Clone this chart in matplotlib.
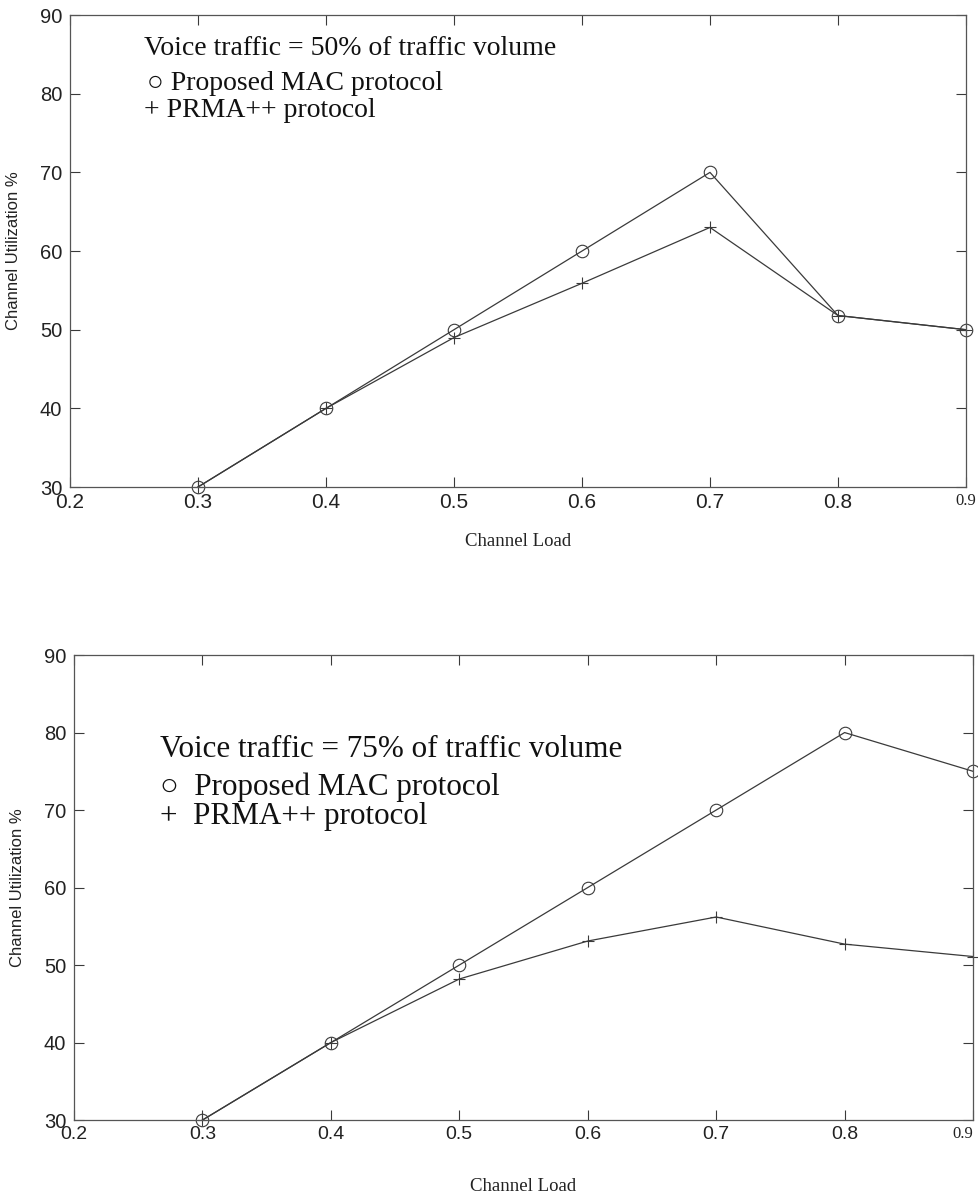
import matplotlib
matplotlib.use('Agg')
import matplotlib.pyplot as plt

# channel load values on the x axis
channel_load = [0.3, 0.4, 0.5, 0.6, 0.7, 0.8, 0.9]

# top panel: voice traffic = 50%
mac_50 = [30, 40, 50, 60, 70, 51.8, 50]
prma_50 = [30, 40, 49, 55.9, 63, 51.8, 50]

# bottom panel: voice traffic = 75%
mac_75 = [30, 40, 50, 60, 70, 80, 75]
prma_75 = [30, 40, 48.2, 53.1, 56.2, 52.7, 51.1]

xticks = [0.2, 0.3, 0.4, 0.5, 0.6, 0.7, 0.8, 0.9]
yticks = [30, 40, 50, 60, 70, 80, 90]

line_col = '#3a3a3a'
serif = ['Liberation Serif', 'DejaVu Serif']
sans = ['Liberation Sans', 'DejaVu Sans']


def setup_axes(ax, xlabel_y, xsize, last_ha):
    ax.set_xlim(0.2, 0.9)
    ax.set_ylim(30, 90)
    ax.set_xticks(xticks)
    ax.set_yticks(yticks)
    ax.set_xticklabels(['{:.1f}'.format(v) for v in xticks], family=sans, fontsize=xsize)
    ax.set_yticklabels([str(v) for v in yticks], family=sans, fontsize=14.5)
    # last x label is set in a serif face in the original
    last = ax.get_xticklabels()[-1]
    last.set_family(serif)
    last.set_fontsize(12)
    last.set_color('#555555')
    last.set_ha(last_ha)
    ax.tick_params(direction='in', length=7, width=0.8, colors=line_col,
                   top=True, right=True, labelcolor='#222222')
    ax.tick_params(axis='y', pad=5.5)
    ax.tick_params(axis='x', pad=4)
    for sp in ax.spines.values():
        sp.set_color('#555555')
        sp.set_linewidth(0.9)
    ax.set_ylabel('Channel Utilization %', family=sans, fontsize=12, color='#222222')
    ax.yaxis.set_label_coords(-0.055, 0.5)
    ax.set_xlabel('Channel Load', family=serif, fontsize=13.5, color='#222222')
    ax.xaxis.set_label_coords(0.5, xlabel_y)


def draw(ax, mac, prma):
    ax.plot(channel_load, mac, color=line_col, linewidth=0.9, marker='o', markersize=9,
            markerfacecolor='none', markeredgecolor=line_col, markeredgewidth=0.8, clip_on=False)
    ax.plot(channel_load, prma, color=line_col, linewidth=0.9, marker='+', markersize=9,
            markeredgecolor=line_col, markeredgewidth=0.8, clip_on=False)


fig = plt.figure(figsize=(9.79, 11.96), dpi=100)

ax1 = fig.add_axes([0.0715, 0.5928, 0.9152, 0.3946])
draw(ax1, mac_50, prma_50)
setup_axes(ax1, -0.097, 15, 'center')
ax1.text(0.083, 0.929, 'Voice traffic = 50% of traffic volume', transform=ax1.transAxes,
         family=serif, fontsize=20, va='center', ha='left', color='#111111')
ax1.text(0.086, 0.856, '\u25CB Proposed MAC protocol', transform=ax1.transAxes,
         family=serif, fontsize=20, va='center', ha='left', color='#111111')
ax1.text(0.083, 0.797, '+ PRMA++ protocol', transform=ax1.transAxes,
         family=serif, fontsize=20, va='center', ha='left', color='#111111')

ax2 = fig.add_axes([0.0756, 0.0635, 0.9183, 0.3888])
draw(ax2, mac_75, prma_75)
setup_axes(ax2, -0.125, 14, 'right')
ax2.text(0.096, 0.796, 'Voice traffic = 75% of traffic volume', transform=ax2.transAxes,
         family=serif, fontsize=22.4, va='center', ha='left', color='#111111')
ax2.text(0.096, 0.716, '\u25CB  Proposed MAC protocol', transform=ax2.transAxes,
         family=serif, fontsize=22.4, va='center', ha='left', color='#111111')
ax2.text(0.096, 0.652, '+  PRMA++ protocol', transform=ax2.transAxes,
         family=serif, fontsize=22.4, va='center', ha='left', color='#111111')

fig.savefig('out.png', dpi=100)
